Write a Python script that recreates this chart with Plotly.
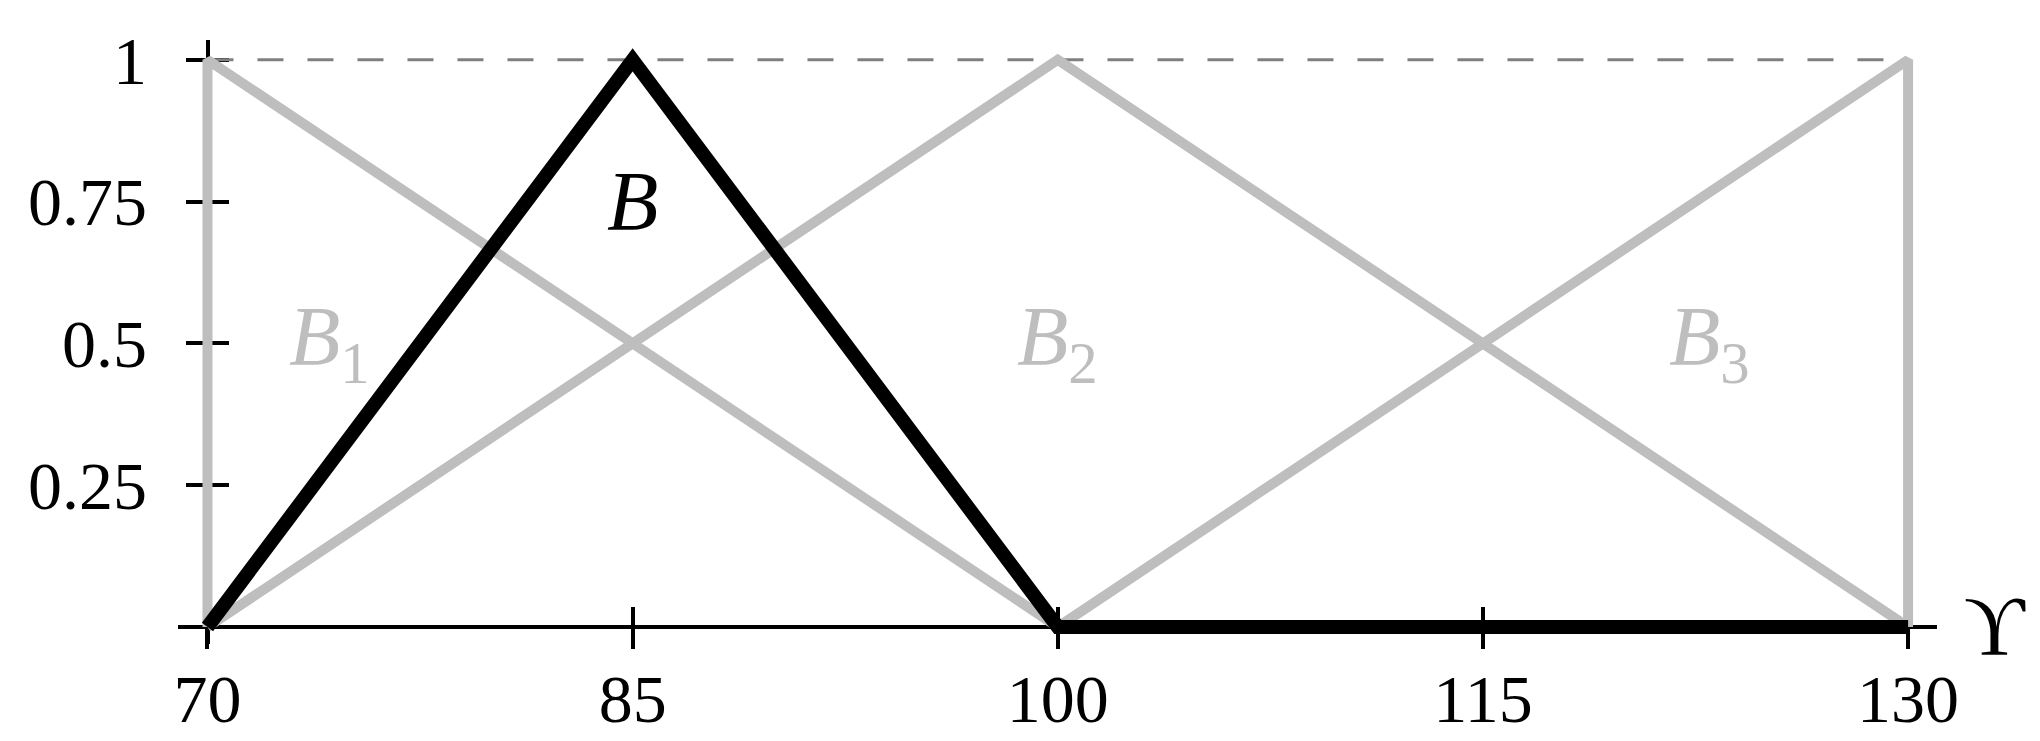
import plotly.graph_objects as go

# reference line at membership 1
ref_x = [70, 130]
ref_y = [1, 1]

# gray fuzzy sets B1, B2, B3
b1_x = [70, 70, 100]
b1_y = [0, 1, 0]
b2_x = [70, 100, 130]
b2_y = [0, 1, 0]
b3_x = [100, 130, 130]
b3_y = [0, 1, 0]

# black fuzzy set B
b_x = [70, 85, 100, 130]
b_y = [0, 1, 0, 0]

x_ticks = [70, 85, 100, 115, 130]
y_ticks = [0.25, 0.5, 0.75, 1]
y_tick_text = ["0.25", "0.5", "0.75", "1"]

# labels: text, x, y, colour
labels = [
    ("<i>B</i>", 85, 0.75, "black"),
    ("<i>B</i><sub>1</sub>", 74.3, 0.5, "#bebebe"),
    ("<i>B</i><sub>2</sub>", 100, 0.5, "#bebebe"),
    ("<i>B</i><sub>3</sub>", 123, 0.5, "#bebebe"),
]

GRAY = "#bebebe"
FONT = "Liberation Serif"
X_RANGE = [68.96, 131.02]
Y_RANGE = [-0.03, 1.035]
X_POS = 0.03 / 1.065          # x-axis drawn at y = 0
Y_POS = (205.6 - 176) / 1759  # y-axis drawn at x = 70

fig = go.Figure()

fig.add_trace(go.Scatter(
    x=ref_x, y=ref_y, mode="lines", hoverinfo="skip",
    line=dict(color="rgb(128,128,128)", width=3, dash="26px,24px"),
))
for xs, ys in [(b1_x, b1_y), (b2_x, b2_y), (b3_x, b3_y)]:
    fig.add_trace(go.Scatter(
        x=xs, y=ys, mode="lines", line=dict(color=GRAY, width=10),
    ))
fig.add_trace(go.Scatter(
    x=b_x, y=b_y, mode="lines", line=dict(color="black", width=14),
    xaxis="x2", yaxis="y2",
))

for text, x, y, color in labels:
    fig.add_annotation(
        x=x, y=y, xref="x", yref="y", text=text, showarrow=False,
        xanchor="center", yanchor="middle",
        font=dict(family=FONT, size=84, color=color),
    )

# axis name, placed just past the end of the x-axis line
fig.add_annotation(
    x=(1987 - 170) / 1759, y=X_POS, xref="paper", yref="paper",
    text="ϒ", showarrow=False, xanchor="center", yanchor="middle",
    font=dict(family=FONT, size=84, color="black"),
)

axis_common = dict(
    showgrid=False, zeroline=False, tickwidth=4, ticklen=20,
    tickcolor="black", layer="below traces", automargin=False,
)

fig.update_layout(
    width=2040, height=741,
    margin=dict(l=170, r=111, t=32, b=104.5, pad=0, autoexpand=False),
    plot_bgcolor="white", paper_bgcolor="white",
    showlegend=False,
    font=dict(family=FONT, size=66, color="black"),
    xaxis=dict(
        range=X_RANGE, anchor="free", position=X_POS,
        showline=True, linewidth=4, linecolor="black",
        ticks="outside", tickvals=x_ticks, ticklabelstandoff=-9,
        tickfont=dict(family=FONT, size=68, color="black"),
        **axis_common,
    ),
    yaxis=dict(
        range=Y_RANGE, anchor="free", position=Y_POS,
        showline=True, linewidth=4, linecolor="black",
        ticks="outside", tickvals=y_ticks, ticktext=y_tick_text,
        ticklabelstandoff=25,
        tickfont=dict(family=FONT, size=68, color="black"),
        **axis_common,
    ),
    xaxis2=dict(
        range=X_RANGE, overlaying="x", anchor="free", position=X_POS,
        showline=False, ticks="inside", tickvals=x_ticks,
        showticklabels=False, **axis_common,
    ),
    yaxis2=dict(
        range=Y_RANGE, overlaying="y", anchor="free", position=Y_POS,
        showline=False, ticks="inside", tickvals=y_ticks,
        showticklabels=False, **axis_common,
    ),
)

fig.write_html("out.html")
